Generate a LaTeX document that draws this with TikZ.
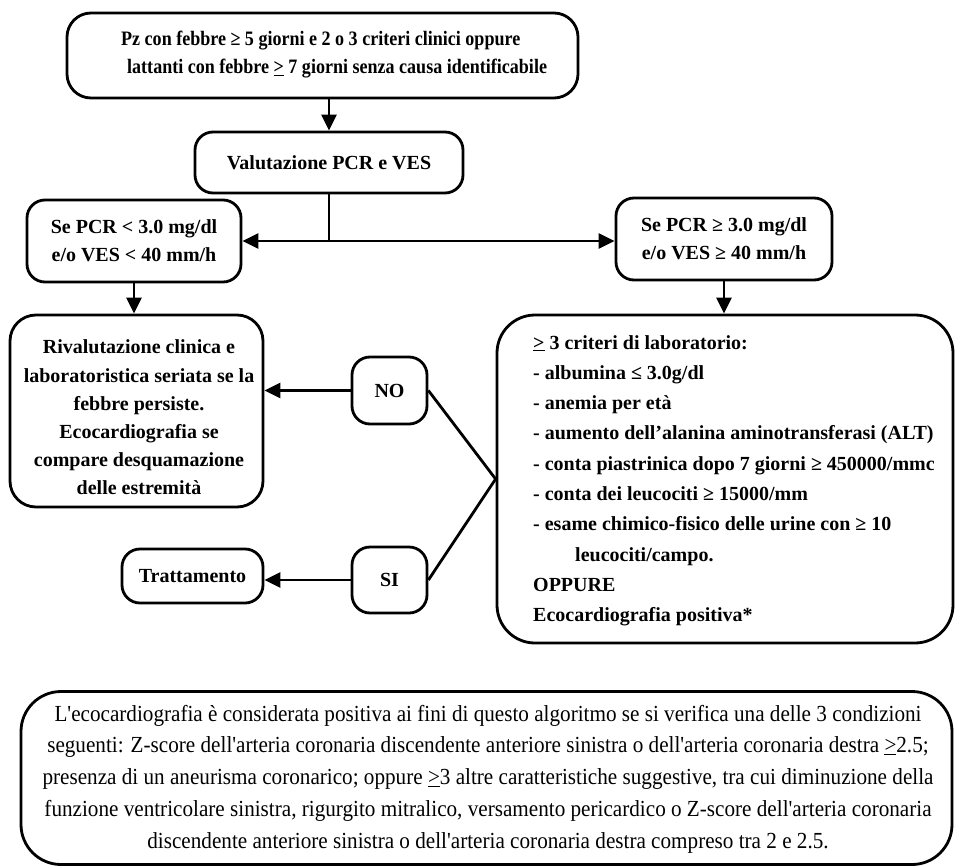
\documentclass[tikz,border=0pt]{standalone}
\usepackage{fontspec}
\setmainfont{Liberation Serif}
\newfontfamily\condfont{Liberation Serif}[FakeStretch=0.88]
\newfontfamily\notefont{Liberation Serif}[FakeStretch=0.92, Ligatures=TeXOff]
\usetikzlibrary{arrows.meta}
\begin{document}
\begin{tikzpicture}[x=1pt,y=-1pt,
  box/.style={draw, line width=2.8pt, rounded corners=18pt, inner sep=0pt, align=center,
    font=\fontsize{20}{28}\selectfont\bfseries},
  txt/.style={inner sep=0pt, font=\fontsize{20}{28}\selectfont\bfseries},
  arr/.style={line width=2.8pt, -{Triangle[length=16pt,width=15pt]}},
  link/.style={line width=2.8pt}]
\useasboundingbox (0,0) rectangle (955,867);

% boxes
\node[box, minimum width=511pt, minimum height=85pt, rounded corners=24pt] (top) at (322.5,55.5) {};
\node[txt, anchor=west, align=left, font=\condfont\bfseries\fontsize{20.5}{28}\selectfont] (ttop) at (121,55)
  {Pz con febbre ≥ 5 giorni e 2 o 3 criteri clinici oppure\\
   \hspace*{6pt}lattanti con febbre \underline{>} 7 giorni senza causa identificabile};

\node[box, minimum width=268pt, minimum height=61pt] (val) at (329,162.5) {Valutazione PCR e VES};

\node[box, minimum width=214pt, minimum height=82pt] (lpcr) at (134,241)
  {Se PCR < 3.0 mg/dl\\e/o VES < 40 mm/h};
\node[box, minimum width=216pt, minimum height=82pt] (rpcr) at (724,239)
  {Se PCR ≥ 3.0 mg/dl\\e/o VES ≥ 40 mm/h};

\node[box, minimum width=253pt, minimum height=192pt, rounded corners=26pt] (riv) at (136.5,411) {};
\node[txt, align=center, font=\fontsize{20}{28.2}\selectfont\bfseries] (triv) at (139,417.5)
  {Rivalutazione clinica e\\laboratoristica seriata se la\\febbre persiste.\\Ecocardiografia se\\compare desquamazione\\delle estremità};

\node[box, minimum width=75pt, minimum height=67pt] (no) at (389.5,390.5) {NO};
\node[box, minimum width=75pt, minimum height=66pt] (si) at (389.5,580) {SI};
\node[box, minimum width=141pt, minimum height=54pt] (trat) at (192.5,576) {Trattamento};

\node[box, minimum width=456pt, minimum height=328pt, rounded corners=38pt] (big) at (725,479) {};
\node[txt, anchor=north west, align=left, font=\fontsize{20}{30.3}\selectfont\bfseries] (tbig) at (533,335)
  {\underline{>} 3 criteri di laboratorio:\\
   - albumina ≤ 3.0g/dl\\
   - anemia per età\\
   - aumento dell’alanina aminotransferasi (ALT)\\
   - conta piastrinica dopo 7 giorni ≥ 450000/mmc\\
   - conta dei leucociti ≥ 15000/mm\\
   - esame chimico-fisico delle urine con ≥ 10\\
   \hspace*{42pt}leucociti/campo.\\
   OPPURE\\
   Ecocardiografia positiva*};

\node[box, minimum width=931pt, minimum height=173pt, rounded corners=40pt] (note) at (486.5,778) {};
\node[inner sep=0pt, align=center, font=\notefont\fontsize{23}{31.7}\selectfont] (tnote) at (488,779)
  {L'ecocardiografia è considerata positiva ai fini di questo algoritmo se si verifica una delle 3 condizioni\\
   seguenti: Z-score dell'arteria coronaria discendente anteriore sinistra o dell'arteria coronaria destra \underline{>}2.5;\\
   presenza di un aneurisma coronarico; oppure \underline{>}3 altre caratteristiche suggestive, tra cui diminuzione della\\
   funzione ventricolare sinistra, rigurgito mitralico, versamento pericardico o Z-score dell'arteria coronaria\\
   discendente anteriore sinistra o dell'arteria coronaria destra compreso tra 2 e 2.5.};

% connectors
\draw[arr] (top.south -| val.north) -- (val.north);
\coordinate (split) at (val.south |- lpcr.east);
\draw[line width=2pt] (val.south) -- (split);
\draw[arr] (split) -- (lpcr.east);
\draw[arr] (split) -- (split -| rpcr.west);
\draw[arr] (lpcr.south) -- (lpcr.south |- riv.north);
\draw[arr] (rpcr.south) -- (rpcr.south |- big.north);
\draw[arr] (no.west) -- (no.west -| riv.east);
\draw[arr] (si.west) -- (si.west -| trat.east);
\draw[link] (no.east) -- (big.west) -- (si.east);
\end{tikzpicture}
\end{document}
